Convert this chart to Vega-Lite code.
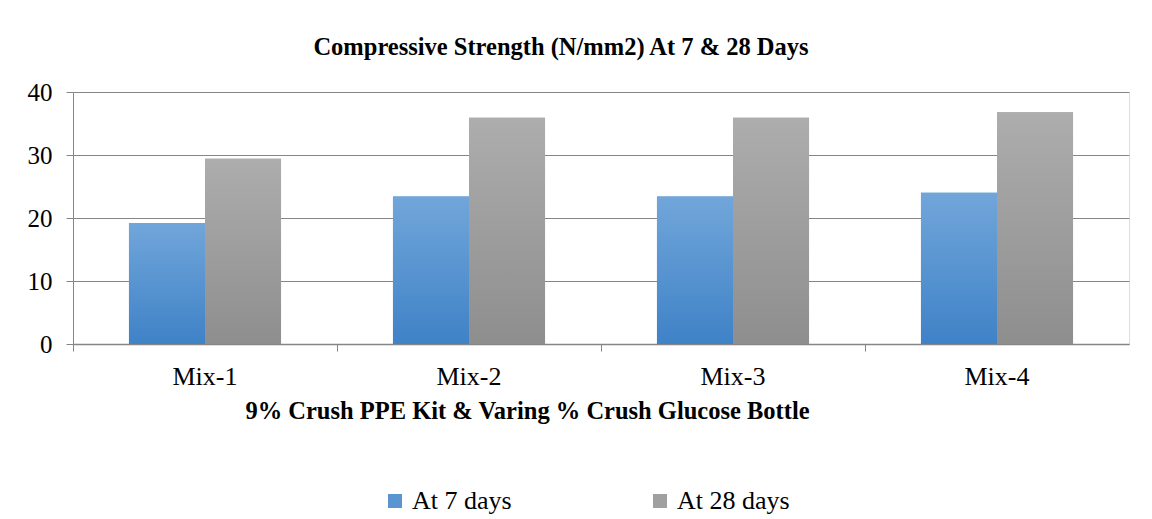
{
  "$schema": "https://vega.github.io/schema/vega-lite/v6.json",
  "width": 1056,
  "height": 252,
  "autosize": {"type": "none"},
  "padding": {"left": 73, "top": 92, "right": 23, "bottom": 175},
  "background": "white",
  "config": {
    "font": "'Liberation Serif', 'Times New Roman', serif",
    "legend": {"labelFont": "'Liberation Serif', 'Times New Roman', serif"}
  },
  "title": {
    "text": "Compressive Strength (N/mm2) At 7 & 28 Days",
    "font": "'Liberation Serif', 'Times New Roman', serif",
    "fontSize": 24.5,
    "fontWeight": "bold",
    "color": "black",
    "anchor": "middle",
    "dx": -40,
    "offset": 20
  },
  "data": {
    "values": [
      {"mix": "Mix-1", "series": "At 7 days", "value": 19.2},
      {"mix": "Mix-1", "series": "At 28 days", "value": 29.4},
      {"mix": "Mix-2", "series": "At 7 days", "value": 23.4},
      {"mix": "Mix-2", "series": "At 28 days", "value": 35.9},
      {"mix": "Mix-3", "series": "At 7 days", "value": 23.4},
      {"mix": "Mix-3", "series": "At 28 days", "value": 35.9},
      {"mix": "Mix-4", "series": "At 7 days", "value": 24.0},
      {"mix": "Mix-4", "series": "At 28 days", "value": 36.8}
    ]
  },
  "encoding": {
    "x": {
      "field": "mix",
      "type": "nominal",
      "sort": ["Mix-1", "Mix-2", "Mix-3", "Mix-4"],
      "scale": {"paddingInner": 0.424, "paddingOuter": 0.212},
      "axis": {
        "title": "9% Crush PPE Kit & Varing % Crush Glucose Bottle",
        "titleFont": "'Liberation Serif', 'Times New Roman', serif",
        "titleFontSize": 24.5,
        "titleFontWeight": "bold",
        "titleColor": "black",
        "titleX": 454,
        "titlePadding": 10,
        "labelFont": "'Liberation Serif', 'Times New Roman', serif",
        "labelFontSize": 26,
        "labelColor": "black",
        "labelAngle": 0,
        "labelPadding": 12,
        "bandPosition": -0.368,
        "domainColor": "#868686",
        "domainWidth": 1.5,
        "tickColor": "#868686",
        "tickSize": 7,
        "grid": false
      }
    },
    "xOffset": {
      "field": "series",
      "type": "nominal",
      "scale": {"domain": ["At 7 days", "At 28 days"]}
    },
    "y": {
      "field": "value",
      "type": "quantitative",
      "scale": {"domain": [0, 40]},
      "axis": {
        "title": null,
        "values": [0, 10, 20, 30, 40],
        "labelFont": "'Liberation Serif', 'Times New Roman', serif",
        "labelFontSize": 25,
        "labelColor": "black",
        "labelPadding": 14,
        "domainColor": "#868686",
        "tickColor": "#868686",
        "tickSize": 7,
        "gridColor": "#868686",
        "gridWidth": 1
      }
    }
  },
  "layer": [
    {
      "mark": {"type": "bar"},
      "encoding": {
        "color": {
          "field": "series",
          "type": "nominal",
          "scale": {"domain": ["At 7 days", "At 28 days"], "range": ["#5a95d2", "#a0a0a0"]},
          "legend": {
            "title": null,
            "orient": "none",
            "legendX": 309,
            "legendY": 396,
            "direction": "horizontal",
            "symbolType": "square",
            "symbolSize": 196,
            "symbolStrokeWidth": 0,
            "labelFont": "'Liberation Serif', 'Times New Roman', serif",
            "labelFontSize": 26,
            "labelColor": "black",
            "labelOffset": 4,
            "columnPadding": 135,
            "labelExpr": "datum.label",
            "encode": {
              "labels": {"update": {"font": {"value": "Liberation Serif"}}}
            }
          }
        }
      }
    },
    {
      "transform": [{"filter": "datum.series === 'At 7 days'"}],
      "mark": {
        "type": "bar",
        "fill": {
          "gradient": "linear", "x1": 0, "y1": 0, "x2": 0, "y2": 1,
          "stops": [{"offset": 0, "color": "#71a6da"}, {"offset": 1, "color": "#3f82c7"}]
        }
      }
    },
    {
      "transform": [{"filter": "datum.series === 'At 28 days'"}],
      "mark": {
        "type": "bar",
        "fill": {
          "gradient": "linear", "x1": 0, "y1": 0, "x2": 0, "y2": 1,
          "stops": [{"offset": 0, "color": "#adadad"}, {"offset": 1, "color": "#8e8e8e"}]
        }
      }
    }
  ]
}
